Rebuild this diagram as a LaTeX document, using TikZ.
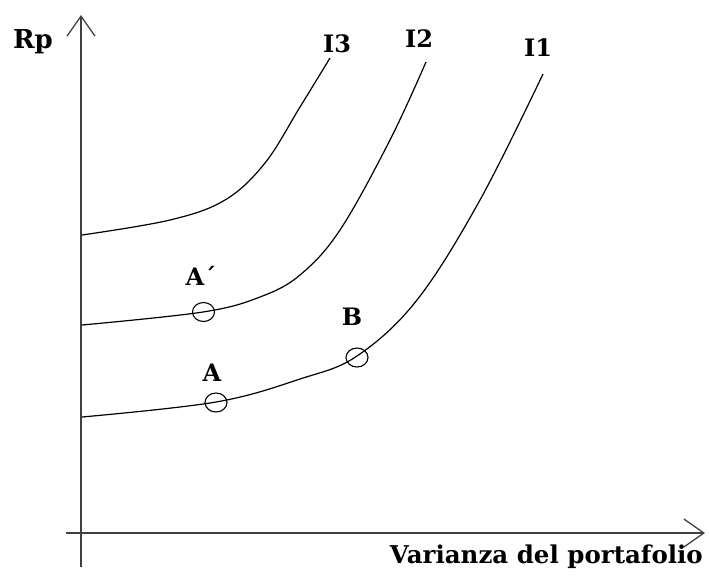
\documentclass[tikz,border=0pt]{standalone}
\usepackage{fontspec}
\setmainfont{DejaVu Serif}
\usetikzlibrary{arrows.meta,shapes.geometric}
\begin{document}
\begin{tikzpicture}[x=1pt,y=-1pt,
  axisline/.style={line width=1.6pt, black!75, -{Straight Barb[length=20pt,width=28pt,line width=1.3pt]}},
  curveline/.style={line width=1.2pt, black, smooth, tension=0.6},
  ptmark/.style={draw, ellipse, line width=1.1pt, minimum width=22pt, minimum height=19pt, inner sep=0pt},
  lbl/.style={font=\bfseries\fontsize{24}{24}\selectfont, inner sep=0pt},
  axlbl/.style={font=\bfseries\fontsize{24.5}{24.5}\selectfont, inner sep=0pt}]
\useasboundingbox (0,0) rectangle (709,582);
% axes
\coordinate (yb) at (81,567);
\coordinate (yt) at (81,15);
\coordinate (xl) at (66,533);
\coordinate (xr) at (705,533);
\draw[axisline] (yb) -- (yt);
\draw[axisline] (xl) -- (xr);
% indifference curves
\draw[curveline] plot coordinates {(82,235) (170,220) (225,200) (265,163) (300,107) (330,58)};
\draw[curveline] plot coordinates {(82,325) (203,312) (260,297) (300,275) (340,230) (390,140) (426,62)};
\draw[curveline] plot coordinates {(82,417) (216,402) (300,379) (357,356) (417,300) (480,200) (543,74)};
% points
\node[ptmark] (pAp) at (203.5,312) {};
\node[ptmark] (pA) at (216,402.5) {};
\node[ptmark] (pB) at (357,357.5) {};
% labels
\node[lbl, font=\bfseries\fontsize{26}{26}\selectfont] (lRp) at (33,42) {Rp};
\node[lbl] (lI3) at (337,44) {I3};
\node[lbl] (lI2) at (419,39) {I2};
\node[lbl] (lI1) at (538,48) {I1};
\node[lbl] (lAp) at (201,276) {A´};
\node[lbl] (lB) at (352,317) {B};
\node[lbl] (lA) at (212,373) {A};
\node[axlbl, anchor=base east] (lx) at (703,563) {Varianza del portafolio};
\end{tikzpicture}
\end{document}
